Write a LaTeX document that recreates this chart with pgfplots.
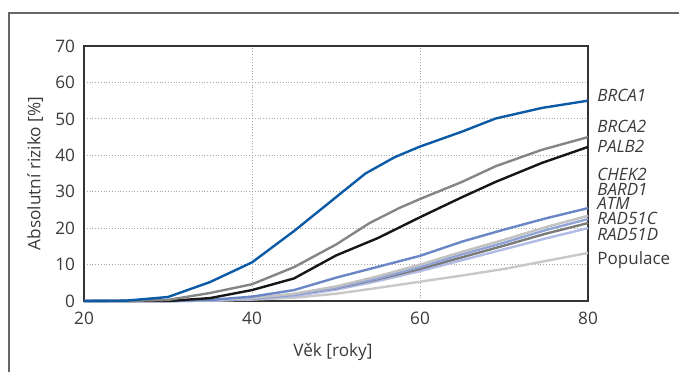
\documentclass[border=0pt]{standalone}
\usepackage{pgfplots}
\pgfplotsset{compat=1.18}
\usepackage{fontspec}
\setmainfont{Open Sans}
\definecolor{cBRCA1}{HTML}{0B5AA6}
\definecolor{cBRCA2}{HTML}{858585}
\definecolor{cPALB2}{HTML}{161616}
\definecolor{cCHEK2}{HTML}{6A86C4}
\definecolor{cBARD1}{HTML}{C2C2C2}
\definecolor{cATM}{HTML}{90A4D8}
\definecolor{cRAD51C}{HTML}{7A7A7A}
\definecolor{cRAD51D}{HTML}{B0BBE6}
\definecolor{cPop}{HTML}{C8C8C8}
\definecolor{txt}{HTML}{3A3A3A}
\begin{document}
\begin{tikzpicture}
\useasboundingbox (0,0) rectangle (339.5pt,186pt);
\draw[color=black!60, line width=0.6pt] (4.5pt,0) -- (4.5pt,179.5pt) -- (339.5pt,179.5pt);
\begin{axis}[
  at={(42pt,35.5pt)}, anchor=south west,
  scale only axis, width=252pt, height=127.5pt,
  xmin=20, xmax=80, ymin=0, ymax=70,
  xtick={20,40,60,80}, ytick={0,10,...,70},
  major tick length=0pt,
  grid=major,
  major grid style={densely dotted, color=black!35, line width=0.4pt},
  axis line style={color=black!80, line width=0.6pt},
  tick label style={font=\fontsize{8.6}{10}\selectfont, color=txt},
  /pgf/number format/assume math mode=true,
  xticklabel style={yshift=-2pt},
  yticklabel style={xshift=-1pt},
  xlabel={Věk [roky]},
  ylabel={Absolutní riziko [\%]},
  label style={font=\fontsize{8.6}{10}\selectfont, color=txt},
  xlabel style={at={(axis description cs:0.494,-0.2)}, anchor=center},
  ylabel style={at={(axis description cs:-0.097,0.5)}, anchor=center},
  clip=false,
  every axis plot/.append style={line width=1.2pt, line join=round},
]
\addplot[cPop] coordinates {(20,0) (30,0) (35,0.1) (40,0.4) (45,0.9) (50,2) (55,3.6) (60,5.3) (65,7) (70,8.8) (75,11) (80,13.2)};
\addplot[cRAD51D] coordinates {(20,0) (30,0) (35,0.1) (40,0.5) (45,1.4) (50,3.1) (55,5.5) (60,8.2) (65,11.2) (70,14.2) (75,17.2) (80,20)};
\addplot[cRAD51C] coordinates {(20,0) (30,0) (35,0.2) (40,0.7) (45,1.8) (50,3.5) (55,6) (60,8.8) (65,12) (70,15.2) (75,18.5) (80,21.4)};
\addplot[cATM] coordinates {(20,0) (30,0) (35,0.1) (40,0.6) (45,1.7) (50,3.6) (55,6.2) (60,9.3) (65,12.8) (70,16) (75,19.5) (80,22.5)};
\addplot[cBARD1] coordinates {(20,0) (30,0) (35,0.2) (40,0.8) (45,2) (50,4) (55,6.8) (60,10) (65,13.5) (70,16.8) (75,20.3) (80,23.4)};
\addplot[cCHEK2] coordinates {(20,0) (30,0) (35,0.3) (40,1.2) (45,3) (50,6.4) (55,9.4) (60,12.4) (65,16.3) (70,19.6) (75,22.7) (80,25.5)};
\addplot[cPALB2] coordinates {(20,0) (25,0) (30,0) (35,0.8) (40,3) (45,6.2) (50,12.5) (55,17.3) (60,23) (65,28.5) (69,32.7) (74.5,37.9) (80,42.3)};
\addplot[cBRCA2] coordinates {(20,0) (25,0) (30,0.3) (35,2.2) (40,4.6) (45,9.3) (50,15.5) (54,21.4) (57.5,25.5) (60,28) (65,32.7) (69,37) (74.5,41.5) (80,45)};
\addplot[cBRCA1] coordinates {(20,0) (25,0.1) (30,1.1) (35,5.2) (40,10.6) (45,19.2) (50,28.5) (53.5,35) (57,39.5) (60,42.4) (65,46.5) (69,50.1) (74.5,53) (80,55)};
\begin{scope}[every node/.style={anchor=west, xshift=4.5pt, color=txt, font=\fontsize{8.5}{10}\selectfont, inner sep=0pt, text height=5.6pt, text depth=0pt}]
\node at (axis cs:80,56.3) {\itshape BRCA1};
\node at (axis cs:80,47.8) {\itshape BRCA2};
\node at (axis cs:80,42.3) {\itshape PALB2};
\node at (axis cs:80,34.7) {\itshape CHEK2};
\node at (axis cs:80,30.5) {\itshape BARD1};
\node at (axis cs:80,26.6) {\itshape ATM};
\node at (axis cs:80,22.5) {\itshape RAD51C};
\node at (axis cs:80,18.1) {\itshape RAD51D};
\node at (axis cs:80,11.5) {Populace};
\end{scope}
\end{axis}
\end{tikzpicture}
\end{document}
